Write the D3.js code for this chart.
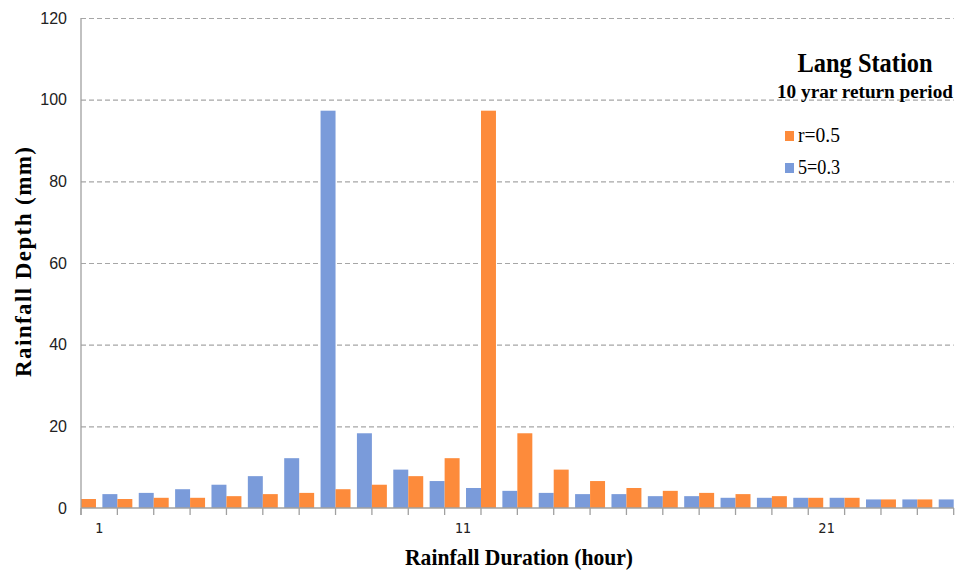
<!DOCTYPE html>
<html>
<head>
<meta charset="utf-8">
<script src="https://cdn.jsdelivr.net/npm/d3@7"></script>
<style>
  body { margin: 0; background: #fff; }
  svg { display: block; }
</style>
</head>
<body>
<svg id="chart" width="955" height="572"></svg>
<script>
// rainfall depth per hour, two series
const hours = [1, 2, 3, 4, 5, 6, 7, 8, 9, 10, 11, 12, 13, 14, 15, 16, 17, 18, 19, 20, 21, 22, 23, 24];
const r05 = [2.2, 2.2, 2.5, 2.5, 2.9, 3.4, 3.7, 4.6, 5.7, 7.8, 12.2, 97.3, 18.3, 9.4, 6.6, 4.9, 4.2, 3.7, 3.4, 2.9, 2.5, 2.5, 2.1, 2.1];
const s03 = [3.4, 3.7, 4.6, 5.7, 7.8, 12.2, 97.3, 18.3, 9.4, 6.6, 4.9, 4.2, 3.7, 3.4, 3.4, 2.9, 2.9, 2.5, 2.5, 2.5, 2.5, 2.1, 2.1, 2.1];
const yTicks = [0, 20, 40, 60, 80, 100, 120];
const xLabels = [1, 11, 21];
const seriesNames = ["r=0.5", "5=0.3"];
const colors = {"r=0.5": "#fd8b3b", "5=0.3": "#7a9bda"};

const svg = d3.select("#chart");
const plotLeft = 81, plotRight = 953.7, plotTop = 18, plotBottom = 508;

const x = d3.scaleBand().domain(hours).range([plotLeft, plotRight]).padding(0);
const xs = d3.scaleBand().domain(seriesNames).range([0, x.bandwidth()])
    .paddingInner(0.3).paddingOuter(0);
const y = d3.scaleLinear().domain([0, 120]).range([plotBottom, plotTop]);

// dashed gridlines
svg.append("g")
    .attr("transform", `translate(${plotLeft},0)`)
    .call(d3.axisRight(y).tickValues(yTicks.slice(1)).tickSize(plotRight - plotLeft).tickFormat(""))
    .call(g => g.select(".domain").remove())
    .selectAll("line")
      .attr("stroke", "#a6a6a6")
      .attr("stroke-width", 1.2)
      .attr("stroke-dasharray", "5,3");

// bars
const rows = hours.map((h, i) => ({h: h, vals: [
    {name: "r=0.5", v: r05[i]},
    {name: "5=0.3", v: s03[i]}
]}));

svg.append("g").selectAll("g")
    .data(rows)
    .enter().append("g")
      .attr("transform", d => `translate(${x(d.h)},0)`)
    .selectAll("rect")
    .data(d => d.vals)
    .enter().append("rect")
      .attr("x", d => xs(d.name))
      .attr("width", xs.bandwidth())
      .attr("y", d => y(d.v))
      .attr("height", d => y(0) - y(d.v))
      .attr("fill", d => colors[d.name]);

// y axis
svg.append("g")
    .attr("transform", `translate(${plotLeft},0)`)
    .call(d3.axisLeft(y).tickValues(yTicks).tickSize(0).tickPadding(14))
    .call(g => g.select(".domain").attr("stroke", "#a0a0a0").attr("stroke-width", 1.3)
        .attr("d", `M0,${plotTop}V${plotBottom + 7}`))
    .selectAll("text")
      .attr("font-family", "Liberation Sans, Arial, sans-serif")
      .attr("font-size", 16)
      .attr("fill", "#222");

// x axis: labels every 10 hours, tick marks at category borders
const xAxis = svg.append("g")
    .attr("transform", `translate(0,${plotBottom})`)
    .call(d3.axisBottom(x).tickValues(xLabels).tickSize(0).tickPadding(15))
    .call(g => g.select(".domain").attr("stroke", "#a0a0a0").attr("stroke-width", 1.3)
        .attr("d", `M${plotLeft},0H${plotRight}`));
xAxis.selectAll("text")
    .attr("font-family", "DejaVu Sans Mono, monospace")
    .attr("font-size", 13.5)
    .attr("fill", "#222");
xAxis.selectAll(".border")
    .data(hours.concat(["end"]))
    .enter().append("line")
      .attr("class", "border")
      .attr("x1", d => d === "end" ? plotRight : x(d))
      .attr("x2", d => d === "end" ? plotRight : x(d))
      .attr("y1", 0).attr("y2", 7)
      .attr("stroke", "#a0a0a0")
      .attr("stroke-width", 1.3);

// axis titles
svg.append("text")
    .attr("x", 519).attr("y", 565)
    .attr("text-anchor", "middle")
    .attr("font-family", "Liberation Serif, Times New Roman, serif")
    .attr("font-weight", "bold")
    .attr("font-size", 24)
    .attr("textLength", 228)
    .attr("lengthAdjust", "spacingAndGlyphs")
    .text("Rainfall Duration (hour)");

svg.append("text")
    .attr("transform", "translate(31,262) rotate(-90)")
    .attr("text-anchor", "middle")
    .attr("font-family", "Liberation Serif, Times New Roman, serif")
    .attr("font-weight", "bold")
    .attr("font-size", 23)
    .attr("textLength", 230)
    .attr("lengthAdjust", "spacing")
    .text("Rainfall Depth (mm)");

// legend block
svg.append("text")
    .attr("x", 865).attr("y", 72)
    .attr("text-anchor", "middle")
    .attr("font-family", "Liberation Serif, Times New Roman, serif")
    .attr("font-weight", "bold")
    .attr("font-size", 28)
    .attr("textLength", 135)
    .attr("lengthAdjust", "spacingAndGlyphs")
    .text("Lang Station");

svg.append("text")
    .attr("x", 865).attr("y", 98)
    .attr("text-anchor", "middle")
    .attr("font-family", "Liberation Serif, Times New Roman, serif")
    .attr("font-weight", "bold")
    .attr("font-size", 18)
    .attr("textLength", 176)
    .attr("lengthAdjust", "spacingAndGlyphs")
    .text("10 yrar return period");

const legend = svg.append("g").selectAll("g")
    .data(seriesNames)
    .enter().append("g")
      .attr("transform", (d, i) => `translate(785,${131 + i * 32})`);

legend.append("rect")
    .attr("width", 9).attr("height", 10)
    .attr("fill", d => colors[d]);

legend.append("text")
    .attr("x", 13).attr("y", 11)
    .attr("font-family", "Liberation Serif, Times New Roman, serif")
    .attr("font-size", 20)
    .attr("textLength", 42)
    .attr("lengthAdjust", "spacingAndGlyphs")
    .text(d => d);
</script>
</body>
</html>
